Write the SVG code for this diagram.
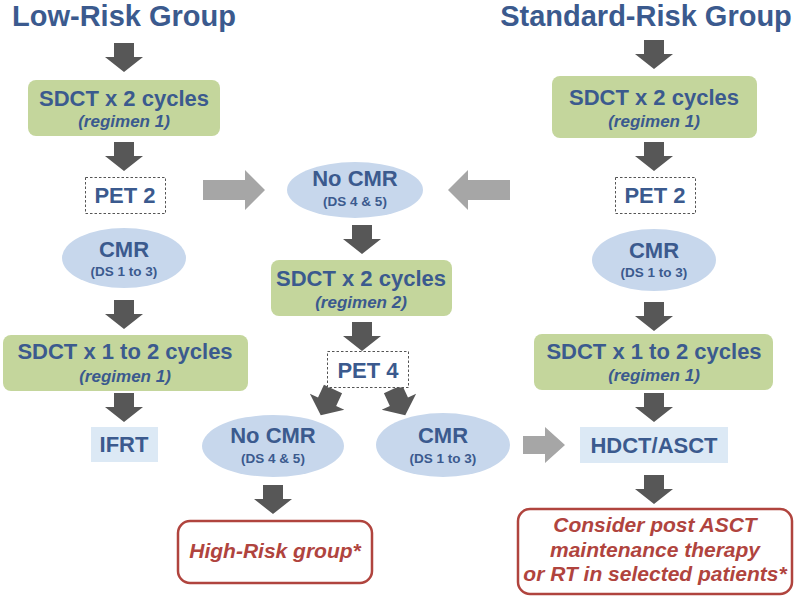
<svg xmlns="http://www.w3.org/2000/svg" xmlns:xlink="http://www.w3.org/1999/xlink" width="800" height="597" viewBox="0 0 800 597">
<defs>
<style>
text{font-family:"Liberation Sans",Arial,sans-serif;font-weight:bold;fill:#3b5a8e;text-anchor:middle}
.title{font-size:29px}
.h{font-size:22px}
.sub{font-size:17px;font-style:italic}
.ds{font-size:13.5px}
.red{fill:#b0443e;font-style:italic;font-size:21px}
.green{fill:#c4d69c}
.ell{fill:#c7d7ec}
.lb{fill:#dce9f5}
.dash{fill:#fff;stroke:#555;stroke-width:1;stroke-dasharray:2.5 2}
.redbox{fill:#fff;stroke:#b0443e;stroke-width:2.5}
.dark{fill:#575757}
.gray{fill:#a6a6a6}
</style>
<path id="down" d="M-10,0 H10 V14 H19 L0,29 L-19,14 H-10 Z"/>
</defs>

<g id="titles">
<text class="title" x="124" y="26">Low-Risk Group</text>
<text class="title" x="646" y="26">Standard-Risk Group</text>
</g>

<g id="connectors">
<use xlink:href="#down" class="dark" x="124" y="43"/>
<use xlink:href="#down" class="dark" x="124" y="142"/>
<use xlink:href="#down" class="dark" x="124" y="300"/>
<use xlink:href="#down" class="dark" x="124" y="393"/>
<use xlink:href="#down" class="dark" x="654" y="40"/>
<use xlink:href="#down" class="dark" x="654" y="142"/>
<use xlink:href="#down" class="dark" x="654" y="302"/>
<use xlink:href="#down" class="dark" x="654" y="393"/>
<use xlink:href="#down" class="dark" x="654" y="475"/>
<use xlink:href="#down" class="dark" x="362" y="225"/>
<use xlink:href="#down" class="dark" x="362" y="322"/>
<use xlink:href="#down" class="dark" x="273" y="485"/>
<use xlink:href="#down" class="dark" transform="translate(333,389) rotate(25)"/>
<use xlink:href="#down" class="dark" transform="translate(393,389) rotate(-25)"/>
<path class="gray" d="M203,180 H245 V170 L265,190 L245,210 V200 H203 Z"/>
<path class="gray" d="M510,180 H468 V170 L448,190 L468,210 V200 H510 Z"/>
<path class="gray" d="M523,436 H545 V427 L565,445 L545,463 V454 H523 Z"/>
</g>

<g id="lr-sdct1">
<rect class="green" x="28" y="80" width="192" height="56" rx="8"/>
<text class="h" x="124" y="106">SDCT x 2 cycles</text>
<text class="sub" x="124" y="127">(regimen 1)</text>
</g>
<g id="lr-pet2">
<rect class="dash" x="85.5" y="177.5" width="80" height="36"/>
<text class="h" x="125" y="203">PET 2</text>
</g>
<g id="lr-cmr">
<ellipse class="ell" cx="124" cy="258" rx="62" ry="30"/>
<text class="h" x="124" y="257">CMR</text>
<text class="ds" x="124" y="276">(DS 1 to 3)</text>
</g>
<g id="lr-sdct2">
<rect class="green" x="3" y="335" width="245" height="56" rx="8"/>
<text class="h" x="125" y="359">SDCT x 1 to 2 cycles</text>
<text class="sub" x="125" y="382">(regimen 1)</text>
</g>
<g id="lr-ifrt">
<rect class="lb" x="91" y="427" width="67" height="35"/>
<text class="h" x="124" y="452">IFRT</text>
</g>

<g id="m-nocmr1">
<ellipse class="ell" cx="355" cy="190" rx="68" ry="28"/>
<text class="h" x="355" y="186">No CMR</text>
<text class="ds" x="355" y="206">(DS 4 &amp; 5)</text>
</g>
<g id="m-sdct">
<rect class="green" x="271" y="260" width="181" height="56" rx="8"/>
<text class="h" x="361" y="286">SDCT x 2 cycles</text>
<text class="sub" x="361" y="308">(regimen 2)</text>
</g>
<g id="m-pet4">
<rect class="dash" x="327.5" y="351.5" width="81" height="36"/>
<text class="h" x="368" y="378">PET 4</text>
</g>
<g id="m-nocmr2">
<ellipse class="ell" cx="273" cy="446" rx="71" ry="31"/>
<text class="h" x="273" y="443">No CMR</text>
<text class="ds" x="273" y="463">(DS 4 &amp; 5)</text>
</g>
<g id="m-cmr">
<ellipse class="ell" cx="443" cy="445" rx="67" ry="32"/>
<text class="h" x="443" y="443">CMR</text>
<text class="ds" x="443" y="463">(DS 1 to 3)</text>
</g>
<g id="m-highrisk">
<rect class="redbox" x="178" y="521" width="194" height="62" rx="12"/>
<text class="red" x="275" y="558">High-Risk group*</text>
</g>

<g id="sr-sdct1">
<rect class="green" x="552" y="76" width="205" height="62" rx="8"/>
<text class="h" x="654" y="105">SDCT x 2 cycles</text>
<text class="sub" x="654" y="127">(regimen 1)</text>
</g>
<g id="sr-pet2">
<rect class="dash" x="615.5" y="177.5" width="80" height="36"/>
<text class="h" x="655" y="203">PET 2</text>
</g>
<g id="sr-cmr">
<ellipse class="ell" cx="654" cy="260" rx="62" ry="31"/>
<text class="h" x="654" y="258">CMR</text>
<text class="ds" x="654" y="277">(DS 1 to 3)</text>
</g>
<g id="sr-sdct2">
<rect class="green" x="534" y="334" width="239" height="56" rx="8"/>
<text class="h" x="654" y="359">SDCT x 1 to 2 cycles</text>
<text class="sub" x="654" y="381">(regimen 1)</text>
</g>
<g id="sr-hdct">
<rect class="lb" x="580" y="427" width="148" height="36"/>
<text class="h" x="654" y="453">HDCT/ASCT</text>
</g>
<g id="sr-consider">
<rect class="redbox" x="518" y="509" width="274" height="85" rx="12"/>
<text class="red" x="655" y="532">Consider post ASCT</text>
<text class="red" x="655" y="557">maintenance therapy</text>
<text class="red" x="655" y="581">or RT in selected patients*</text>
</g>
</svg>
